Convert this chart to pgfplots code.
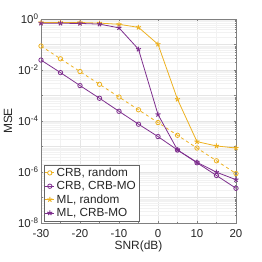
\documentclass[border=0pt]{standalone}
\usepackage{pgfplots}
\pgfplotsset{compat=1.18}
\usepackage{fontspec}
\setmainfont{Liberation Sans}
\usetikzlibrary{plotmarks}
\definecolor{myyel}{rgb}{0.929,0.694,0.125}
\definecolor{mypur}{rgb}{0.494,0.184,0.556}
\begin{document}
\begin{tikzpicture}
\begin{axis}[
  scale only axis,
  width=195bp, height=204bp,
  ymode=log,
  xmin=-30, xmax=20, ymin=1e-8, ymax=1,
  xtick={-30,-20,-10,0,10,20},
  minor xtick={-25,-15,-5,5,15},
  ytick={1e-8,1e-7,1e-6,1e-5,1e-4,1e-3,1e-2,1e-1,1},
  yticklabels={10\textsuperscript{-8},,10\textsuperscript{-6},,10\textsuperscript{-4},,10\textsuperscript{-2},,10\textsuperscript{0}},
  xticklabels={-30,-20,-10,0,10,20},
  tick label style={font=\fontsize{11.5}{13}\selectfont, color=black!85},
  xticklabel style={yshift=-2.5bp},
  yticklabel style={xshift=1bp},
  label style={font=\fontsize{12}{14}\selectfont, color=black!85},
  xlabel={SNR(dB)}, ylabel={MSE},
  xlabel style={yshift=3bp},
  ylabel style={yshift=-1bp},
  grid=both,
  major grid style={gray!20, line width=0.4pt},
  minor grid style={gray!10, line width=0.3pt},
  minor x tick num=0,
  axis line style={black!50},
  tick style={black!50},
  tick align=inside,
  major tick length=2bp, minor tick length=1bp,
  legend style={at={(0.014,0.01)}, anchor=south west, font=\fontsize{11.8}{13}\selectfont,
    draw=black!60, fill=white, inner sep=1bp, row sep=-0.5bp, text=black!85},
  legend cell align=left,
  legend image code/.code={\draw[mark repeat=2,mark phase=2,#1] plot coordinates {(0bp,0bp)(4.5bp,0bp)(9bp,0bp)};},
  every axis plot/.append style={line width=0.8pt, mark size=2.2bp},
]
\addplot[myyel, dashed, mark=o, mark options={solid}] coordinates {
(-30,0.087)(-25,0.0275)(-20,0.0087)(-15,0.00275)(-10,0.00087)(-5,0.000275)(0,0.000087)(5,0.0000275)(10,0.0000087)(15,0.00000275)(20,0.00000087)};
\addlegendentry{CRB, random}
\addplot[mypur, mark=o, mark options={solid}] coordinates {
(-30,0.0245)(-25,0.0079)(-20,0.00245)(-15,0.00078)(-10,0.00024)(-5,0.000075)(0,0.0000245)(5,0.0000073)(10,0.0000023)(15,0.00000073)(20,0.00000023)};
\addlegendentry{CRB, CRB-MO}
\addplot[myyel, mark=star, mark size=2.6bp, mark options={solid, line width=1pt}] coordinates {
(-30,0.73)(-25,0.73)(-20,0.73)(-15,0.69)(-10,0.62)(-5,0.47)(0,0.102)(5,0.00071)(10,0.0000155)(15,0.0000105)(20,0.0000087)};
\addlegendentry{ML, random}
\addplot[mypur, mark=star, mark size=2.6bp, mark options={solid, line width=1pt}] coordinates {
(-30,0.68)(-25,0.68)(-20,0.67)(-15,0.63)(-10,0.45)(-5,0.065)(0,0.00018)(5,0.0000073)(10,0.0000024)(15,0.00000098)(20,0.0000005)};
\addlegendentry{ML, CRB-MO}
\end{axis}
\path ([xshift=-41bp,yshift=-39bp]current axis.south west) rectangle ([xshift=26bp,yshift=19bp]current axis.north east);
\end{tikzpicture}
\end{document}
